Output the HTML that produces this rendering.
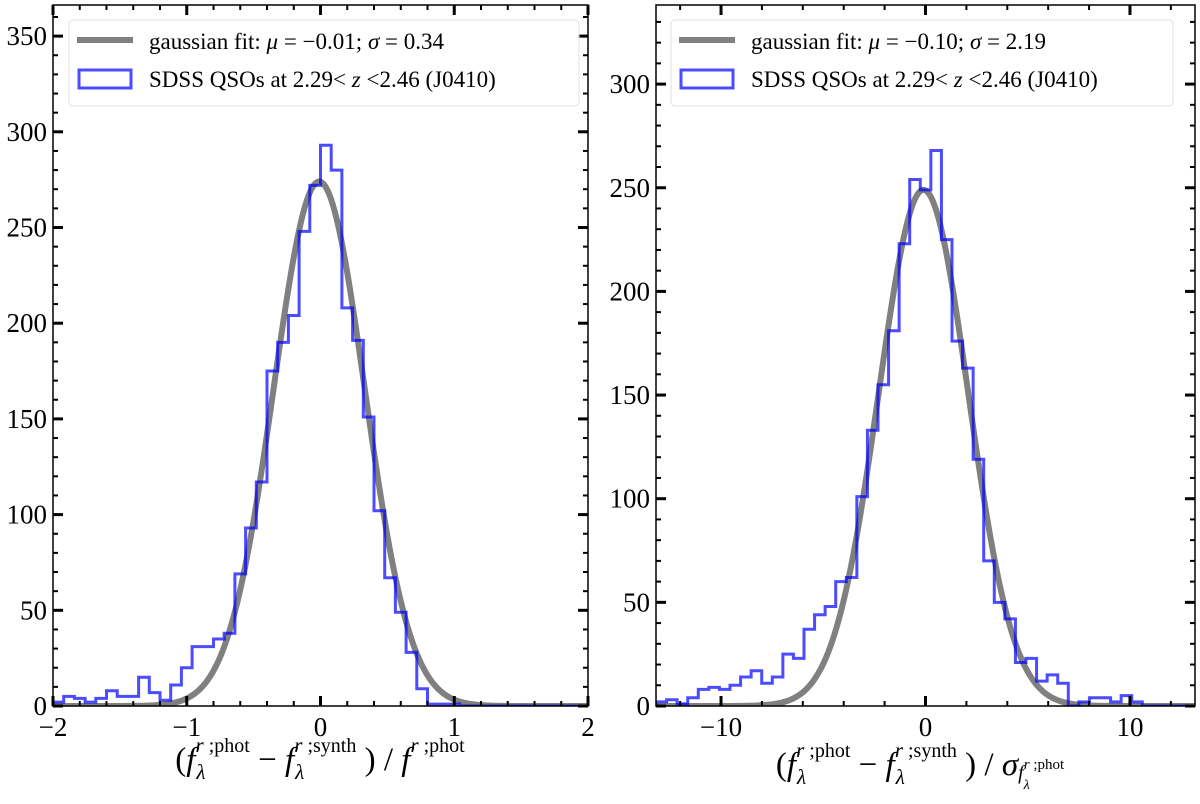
<!DOCTYPE html>
<html><head><meta charset="utf-8"><style>
html,body{margin:0;padding:0;background:#fff;}
svg{display:block;font-family:"Liberation Serif","DejaVu Serif",serif;}
</style></head><body>
<svg id="fig" width="1200" height="804" viewBox="0 0 1200 804" xmlns="http://www.w3.org/2000/svg"></svg>
<script>
// ---- data ----
const leftStart = -2, leftBinW = 0.08;
const leftCounts = [2,5,4,2,4,8,5,5,15,7,3,11,20,31,31,35,38,69,93,117,175,190,204,248,272,293,280,208,191,151,102,67,49,28,9,1,1,1,0,0,0,0,0,0,0,0,0,0,0,0];
const leftFit = {mu:-0.01, sigma:0.34, amp:274};
const leftYTicks = [0,50,100,150,200,250,300,350];
const leftXTicks = [-2,-1,0,1,2];
const leftXTickLabels = ["\u22122","\u22121","0","1","2"];

const rightStart = -13.18, rightBinW = 0.517;
const rightCounts = [2,3,1,4,8,9,8,10,14,17,11,14,25,23,37,44,48,60,62,101,133,155,181,223,254,249,268,225,176,163,119,70,50,42,21,23,12,15,11,0,2,4,4,2,5,2,0,0,0,0,0];
const rightFit = {mu:-0.10, sigma:2.19, amp:249};
const rightYTicks = [0,50,100,150,200,250,300];
const rightXTicks = [-10,0,10];
const rightXTickLabels = ["\u221210","0","10"];

const NS = "http://www.w3.org/2000/svg";
const svg = document.getElementById('fig');
function mk(tag, attrs, parent){const e=document.createElementNS(NS,tag);for(const k in attrs)e.setAttribute(k,attrs[k]);(parent||svg).appendChild(e);return e;}

function panel(cfg){
  const g = mk('g',{});
  
  
  const X = v => cfg.x0 + (v - cfg.xmin)/(cfg.xmax - cfg.xmin)*(cfg.x1 - cfg.x0);
  const Y = v => cfg.yb - (v - 0)*cfg.ky;
  const cid = 'clip-'+cfg.name;
  const cp = mk('clipPath',{id:cid},g);
  mk('rect',{x:cfg.x0,y:cfg.yt,width:cfg.x1-cfg.x0,height:cfg.yb-cfg.yt},cp);
  const plot = mk('g',{'clip-path':'url(#'+cid+')'},g);
  let d='';
  for(let i=0;i<=400;i++){const xv=cfg.xmin+(cfg.xmax-cfg.xmin)*i/400;const yv=cfg.fit.amp*Math.exp(-0.5*Math.pow((xv-cfg.fit.mu)/cfg.fit.sigma,2));d+=(i?'L':'M')+X(xv).toFixed(2)+' '+Y(yv).toFixed(2);}
  const gl = mk('path',{d:d,fill:'none',stroke:'#808080','stroke-width':6},plot);
  
  
  let h='M'+X(cfg.start).toFixed(2)+' '+Y(0).toFixed(2);
  cfg.counts.forEach((c,i)=>{const a=cfg.start+i*cfg.bw,b=a+cfg.bw;h+='L'+X(a).toFixed(2)+' '+Y(c).toFixed(2)+'L'+X(b).toFixed(2)+' '+Y(c).toFixed(2);});
  h+='L'+X(cfg.start+cfg.counts.length*cfg.bw).toFixed(2)+' '+Y(0).toFixed(2);
  const hp = mk('path',{d:h,fill:'none',stroke:'#0000ff','stroke-opacity':0.7,'stroke-width':3},plot);
  
  
  mk('rect',{x:cfg.x0,y:cfg.yt,width:cfg.x1-cfg.x0,height:cfg.yb-cfg.yt,fill:'none',stroke:'#000','stroke-width':1.5},g);
  for(let v=0; Y(v)>=cfg.yt-0.5; v+=10){
    const major = v%50===0, L = major?10:5, y=Y(v);
    mk('line',{x1:cfg.x0,x2:cfg.x0+L,y1:y,y2:y,stroke:'#000','stroke-width':major?3:2},g);
    mk('line',{x1:cfg.x1,x2:cfg.x1-L,y1:y,y2:y,stroke:'#000','stroke-width':major?3:2},g);
  }
  cfg.yticks.forEach(v=>{
    const t=mk('text',{x:cfg.x0-6,y:Y(v)+9,'text-anchor':'end','font-size':27},g);
    t.textContent=v;
    
    
  });
  const mstep=cfg.minor;
  for(let v=Math.ceil(cfg.xmin/mstep)*mstep; v<=cfg.xmax+1e-9; v+=mstep){
    const vv=Math.round(v/mstep)*mstep;
    const major = cfg.xticks.some(t=>Math.abs(t-vv)<1e-6), L=major?10:5, x=X(vv);
    mk('line',{x1:x,x2:x,y1:cfg.yb,y2:cfg.yb-L,stroke:'#000','stroke-width':major?3:2},g);
    mk('line',{x1:x,x2:x,y1:cfg.yt,y2:cfg.yt+L,stroke:'#000','stroke-width':major?3:2},g);
  }
  cfg.xticks.forEach((v,i)=>{
    const t=mk('text',{x:X(v),y:cfg.yb+30,'text-anchor':'middle','font-size':27},g);
    t.textContent=cfg.xlabels[i];
    
    
  });
  const lg = mk('g',{},g);
  
  
  mk('rect',{x:cfg.lx,y:20,width:cfg.lw,height:86,rx:4,fill:'#fff','fill-opacity':0.8,stroke:'#e0e0e0','stroke-width':1},lg);
  mk('line',{x1:cfg.lx+8,x2:cfg.lx+64,y1:40,y2:40,stroke:'#808080','stroke-width':6},lg);
  mk('rect',{x:cfg.lx+10,y:70,width:52,height:18,fill:'none',stroke:'#0000ff','stroke-opacity':0.7,'stroke-width':3},lg);
  const t1=mk('text',{x:cfg.lx+80,y:49,'font-size':23},lg);
  t1.innerHTML='gaussian fit: <tspan font-style="italic">μ</tspan> = −'+Math.abs(cfg.fit.mu).toFixed(2)+'; <tspan font-style="italic">σ</tspan> = '+cfg.fit.sigma.toFixed(2);
  
  
  const t2=mk('text',{x:cfg.lx+80,y:87,'font-size':23},lg);
  t2.innerHTML='SDSS QSOs at 2.29&lt; <tspan font-style="italic">z</tspan> &lt;2.46 (J0410)';
  
  
  return g;
}

panel({name:'left-panel',x0:53,x1:588,yt:5,yb:706,ky:1.914,xmin:-2,xmax:2,minor:0.2,
  start:leftStart,bw:leftBinW,counts:leftCounts,fit:leftFit,yticks:leftYTicks,xticks:leftXTicks,xlabels:leftXTickLabels,lx:69,lw:510});
panel({name:'right-panel',x0:656,x1:1195,yt:5,yb:706,ky:2.073,xmin:-13.18,xmax:13.18,minor:2,
  start:rightStart,bw:rightBinW,counts:rightCounts,fit:rightFit,yticks:rightYTicks,xticks:rightXTicks,xlabels:rightXTickLabels,lx:671,lw:502});

// f with lambda subscript and stacked superscript
function fl(sup){
  return '<tspan font-style="italic">f</tspan><tspan font-size="21" font-style="italic" dy="9" dx="1">λ</tspan>'+
         '<tspan font-size="21" dy="-27" dx="-10" font-style="italic">r</tspan><tspan font-size="20"> ;'+sup+'</tspan><tspan dy="18"> </tspan>';
}
const xl=mk('text',{x:320,y:770,'text-anchor':'middle','font-size':33});
xl.innerHTML='('+fl('phot')+' − '+fl('synth')+') / <tspan font-style="italic">f</tspan><tspan font-size="21" dy="-18" font-style="italic">r</tspan><tspan font-size="20"> ;phot</tspan>';


const xr=mk('text',{x:920,y:775,'text-anchor':'middle','font-size':33});
xr.innerHTML='('+fl('phot')+' − '+fl('synth')+') / <tspan font-style="italic">σ</tspan><tspan font-size="20" dy="4" font-style="italic">f</tspan><tspan font-size="14" font-style="italic" dy="10">λ</tspan><tspan font-size="15" dy="-20" dx="-6" font-style="italic">r</tspan><tspan font-size="15"> ;phot</tspan>';


</script>
</body></html>
